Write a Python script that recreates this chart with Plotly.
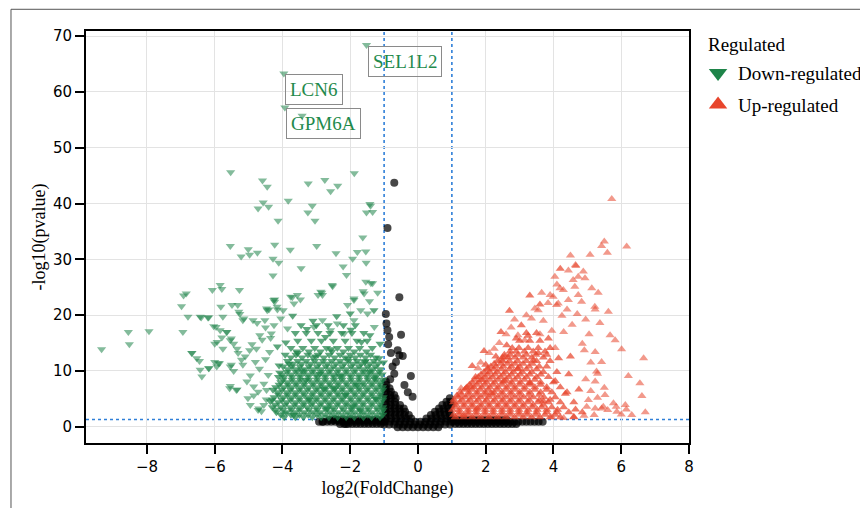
import plotly.graph_objects as go

# ---------------- data ----------------
# Down-regulated: sparse outer points (log2FC, -log10 p)
down_outer = [
    (-5.53,45.6),(-4.59,44.1),(-4.45,43.0),(-4.57,40.2),(-4.72,39.1),(-4.41,39.4),(-4.13,36.9),
    (-3.24,43.6),(-2.75,44.2),(-2.58,42.2),(-2.37,43.2),(-1.88,45.4),(-3.83,40.5),(-3.12,39.6),
    (-3.25,38.4),(-3.04,36.9),(-1.42,39.9),(-1.40,39.6),(-1.52,38.4),(-1.34,38.5),(-1.63,33.9),
    (-5.54,32.4),(-5.01,31.8),(-5.22,30.5),(-4.97,30.8),(-4.74,31.2),(-4.23,32.6),(-4.28,30.1),
    (-4.11,29.4),(-4.28,27.1),(-3.77,31.7),(-2.99,32.4),(-2.42,31.1),(-1.79,31.3),(-1.54,31.4),
    (-1.93,30.1),(-1.53,29.4),(-3.45,28.4),(-2.21,28.7),(-2.11,27.2),(-2.52,25.2),(-1.54,26.0),
    (-1.34,25.7),(-1.62,24.3),(-1.19,24.0),(-2.95,23.6),(-2.84,24.0),(-3.71,23.2),(-3.56,23.6),
    (-3.47,22.8),(-1.89,23.0),(-1.43,22.5),(-6.84,23.9),(-6.92,23.5),(-6.98,21.6),(-6.07,24.5),
    (-5.84,25.4),(-5.79,24.7),(-5.27,24.5),(-5.82,21.5),(-5.32,21.8),(-4.23,22.8),(-4.40,21.0),
    (-4.15,21.0),(-9.34,13.9),(-8.55,17.0),(-8.52,14.8),(-7.94,17.1),(-6.79,19.7),(-6.43,19.7),
    (-6.18,19.6),(-6.94,17.0),(-6.68,13.2),(-6.53,12.3),(-6.38,9.0),(-6.43,10.2),(-6.18,10.5),
    (-5.94,10.8),(-5.89,11.4),(-5.93,15.2),(-5.79,16.0),(-5.54,15.5),(-5.44,14.9),(-5.34,14.0),
    (-6.03,18.0),(-5.84,17.3),(-5.64,17.0),(-5.49,21.8),(-5.29,20.6),(-5.14,19.4),(-5.54,10.8),
    (-5.44,10.0),(-5.54,7.3),(-5.34,6.7),(-4.70,3.3),(-4.55,3.9),(-5.05,8.1),(-4.85,7.2),
    (-3.96,2.4),(-4.45,20.9),(-4.26,22.7),(-4.16,21.5),(-3.76,23.3),(-3.66,22.1),(-2.53,25.4),
    (-2.08,21.8),(-1.89,22.7),(-1.59,23.9),(-1.39,25.7),(-2.87,24.2),(-2.82,23.6),(-3.07,17.9),
    (-2.82,19.1),(-2.58,17.3),(-2.38,18.5),(-2.18,16.7),(-1.89,19.1),(-1.69,20.9),(-1.49,20.3),
    (-1.29,17.9),(-6.00,14.9),(-5.76,14.0),(-6.67,13.2),(-6.45,11.8),(-6.17,10.5),(-6.00,11.6),
    (-5.86,11.4),(-5.31,13.2),(-5.21,12.0),(-5.17,11.1),(-5.51,11.1),(-5.56,6.9),(-5.36,6.6),
    (-5.02,5.1),(-4.72,3.0),(-4.47,6.6),(-4.97,13.7),(-4.77,14.0),(-4.67,16.4),(-4.33,16.7),
    (-4.52,19.1),(-4.87,19.1),(-4.47,21.2),(-4.23,22.4),(-3.98,20.9),(-5.76,19.7),(-5.26,20.2),
    (-5.17,19.1),(-5.96,17.9),(-5.65,17.0),(-5.51,15.8),(-6.40,19.6),(-6.20,19.6),
    (-4.62,2.8),(-4.48,4.9),(-4.72,6.3),(-4.55,7.7),(-4.42,9.3),(-4.68,10.4),(-4.50,12.1),
    (-4.38,13.4),(-4.80,11.6),(-4.95,9.2),(-5.10,12.6),(-4.90,14.8),(-4.60,15.6),(-4.35,15.9),
    (-4.25,18.2),(-4.05,19.4),(-3.85,17.6),(-4.50,17.8),(-4.75,18.6),(-4.85,5.6),(-4.95,3.9),
    (-3.42,55.7),
]
# Down-regulated: irregular points inside the dense cloud
down_inner = [
    (-4.36,4.6),(-4.08,9.7),(-3.81,11.3),(-3.55,13.2),(-3.31,8.4),(-3.02,12.6),(-2.79,6.8),
    (-2.57,13.9),(-2.31,9.1),(-2.06,12.2),(-1.79,7.5),(-1.57,11.6),(-1.29,8.7),(-1.15,12.3),
    (-3.67,2.1),(-3.20,4.9),(-2.67,3.3),(-2.15,5.7),(-1.69,2.9),(-1.25,5.0),(-3.90,15.1),
    (-3.28,17.5),(-2.73,16.1),(-2.40,19.8),(-1.98,17.4),(-1.67,15.2),(-1.42,16.4),(-1.12,14.9),
    (-4.10,11.0),(-3.44,10.1),(-2.90,9.5),(-2.45,6.9),(-1.93,3.7),(-1.45,9.9),(-1.02,11.5),
    (-3.10,19.0),(-2.00,20.3),(-1.30,20.9),(-3.70,19.9),(-4.15,14.4),
]
# Down-regulated: dense core, rows of (-log10 p, [log2FC ...])
down_core_rows = [
    (1.7,  [-3.95,-3.62,-3.38,-3.12,-2.86,-2.63,-2.37,-2.12,-1.88,-1.61,-1.37,-1.12]),
    (2.15, [-4.05,-3.75,-3.50,-3.24,-2.98,-2.74,-2.48,-2.22,-1.98,-1.72,-1.48,-1.22,-1.04]),
    (2.6,  [-4.18,-3.88,-3.63,-3.36,-3.10,-2.88,-2.60,-2.35,-2.08,-1.86,-1.60,-1.35,-1.08]),
    (3.05, [-4.20,-3.98,-3.74,-3.50,-3.22,-2.98,-2.72,-2.48,-2.20,-1.96,-1.72,-1.46,-1.20,-1.03]),
    (3.5,  [-4.30,-4.05,-3.76,-3.50,-3.27,-3.00,-2.74,-2.50,-2.24,-1.98,-1.74,-1.48,-1.22,-1.04]),
    (3.95, [-4.22,-3.92,-3.64,-3.38,-3.14,-2.88,-2.62,-2.38,-2.12,-1.86,-1.62,-1.36,-1.12]),
    (4.4,  [-4.12,-3.88,-3.62,-3.37,-3.12,-2.86,-2.62,-2.36,-2.12,-1.86,-1.62,-1.36,-1.10]),
    (4.85, [-4.30,-4.02,-3.76,-3.50,-3.24,-3.00,-2.74,-2.50,-2.24,-1.98,-1.74,-1.48,-1.22,-1.04]),
    (5.3,  [-4.25,-3.98,-3.74,-3.50,-3.24,-2.99,-2.74,-2.48,-2.24,-1.99,-1.73,-1.49,-1.24,-1.03]),
    (5.75, [-4.12,-3.86,-3.62,-3.36,-3.12,-2.86,-2.62,-2.36,-2.12,-1.86,-1.62,-1.36,-1.12]),
    (6.2,  [-4.14,-3.87,-3.62,-3.38,-3.11,-2.87,-2.61,-2.37,-2.11,-1.87,-1.61,-1.37,-1.11]),
    (6.65, [-4.28,-4.02,-3.76,-3.50,-3.26,-3.00,-2.74,-2.48,-2.24,-1.98,-1.74,-1.50,-1.24,-1.04]),
    (7.1,  [-4.20,-3.96,-3.73,-3.48,-3.23,-2.98,-2.73,-2.50,-2.23,-1.98,-1.74,-1.48,-1.23,-1.05]),
    (7.55, [-4.10,-3.84,-3.60,-3.36,-3.10,-2.86,-2.60,-2.36,-2.10,-1.86,-1.60,-1.36,-1.12]),
    (8.0,  [-4.05,-3.85,-3.60,-3.36,-3.10,-2.86,-2.62,-2.36,-2.12,-1.86,-1.62,-1.36,-1.12]),
    (8.45, [-3.98,-3.72,-3.48,-3.22,-2.98,-2.74,-2.48,-2.24,-1.98,-1.74,-1.48,-1.24,-1.04]),
    (8.9,  [-4.12,-3.96,-3.72,-3.48,-3.24,-2.98,-2.74,-2.48,-2.24,-1.98,-1.74,-1.50,-1.25]),
    (9.35, [-4.00,-3.74,-3.48,-3.24,-3.00,-2.74,-2.50,-2.24,-2.00,-1.74,-1.50,-1.26,-1.06]),
    (9.8,  [-3.86,-3.60,-3.36,-3.12,-2.86,-2.62,-2.38,-2.12,-1.88,-1.62,-1.38,-1.14]),
    (10.3, [-3.84,-3.60,-3.34,-3.10,-2.86,-2.60,-2.36,-2.12,-1.86,-1.62,-1.36,-1.12]),
    (10.8, [-3.98,-3.72,-3.48,-3.22,-2.98,-2.72,-2.50,-2.24,-1.98,-1.74,-1.49,-1.26]),
    (11.3, [-3.70,-3.44,-3.18,-2.92,-2.68,-2.42,-2.18,-1.92,-1.68,-1.42,-1.18]),
    (11.8, [-3.85,-3.55,-3.30,-3.05,-2.80,-2.55,-2.30,-2.05,-1.80,-1.55,-1.30]),
    (12.4, [-3.75,-3.42,-3.10,-2.78,-2.46,-2.15,-1.85,-1.55,-1.25]),
    (12.9, [-3.92,-3.60,-3.25,-2.95,-2.62,-2.30,-2.00,-1.70,-1.40]),
    (13.5, [-3.58,-3.22,-2.88,-2.54,-2.20,-1.88,-1.52]),
    (14.1, [-3.75,-3.40,-3.05,-2.70,-2.38,-2.05,-1.72,-1.35]),
    (15.4, [-3.55,-3.15,-2.85,-2.50,-2.15,-1.80,-1.50]),
    (16.8, [-3.62,-3.30,-2.95,-2.60,-2.25,-1.95,-1.60]),
    (18.2, [-3.45,-3.00,-2.65,-2.20,-1.85]),
]

# Up-regulated: sparse outer points
up_outer = [
    (5.72,40.8),(5.50,33.2),(5.42,32.4),(5.59,31.2),(6.16,32.3),(4.50,30.7),(5.08,30.8),(4.65,29.0),
    (4.66,28.8),(4.44,28.0),(4.88,27.8),(4.73,26.9),(4.04,26.9),(4.58,26.3),(4.93,26.6),(4.19,24.8),
    (4.29,24.5),(4.63,25.1),(4.73,23.6),(5.13,24.8),(5.32,24.0),(3.84,22.2),(3.99,23.3),(4.44,22.7),
    (4.83,22.4),(5.22,21.5),(5.62,20.6),(5.23,21.0),(2.85,19.2),(3.35,19.4),(3.55,20.9),(4.09,21.8),
    (4.14,22.1),(5.37,18.6),(5.67,16.4),(5.82,15.5),(6.01,13.9),(4.91,13.7),(5.23,13.4),(5.42,11.6),
    (6.66,12.3),(6.21,9.1),(6.61,5.5),(6.71,2.6),(5.77,4.2),(6.12,3.9),(5.47,3.6),(5.23,3.3),
    (1.77,10.5),(2.06,10.5),(1.87,8.4),(1.27,6.9),(1.57,7.2),(2.95,16.4),(3.15,15.5),(2.56,12.5),
    (2.46,12.0),(5.27,9.9),(5.23,8.1),(5.52,5.7),(5.03,4.8),(4.98,3.6),(5.42,3.3),(5.87,2.7),
    (6.31,2.1),(3.20,20.0),(3.45,21.2),(3.70,19.0),(3.90,23.6),(4.10,25.5),(4.25,19.9),(4.40,21.0),
    (3.60,16.6),(4.05,14.1),(4.55,18.3),(4.70,20.2),(4.95,19.2),(5.05,16.6),(4.85,14.9),(5.10,11.5),
    (4.30,17.0),(3.95,17.2),(3.65,24.0),(2.75,17.8),(2.40,15.0),(2.60,16.6),(2.10,13.2),(1.85,11.5),
    (2.25,14.0),(5.30,9.5),(5.50,7.0),(5.10,6.4),(4.95,8.5),(5.30,5.2),(5.60,3.0),(5.85,3.6),
    (6.00,2.2),(5.20,2.1),(4.90,2.0),(4.60,1.8),(4.30,1.6),(3.95,1.7),(6.15,3.1),(6.55,7.8),
]
# Up-regulated: irregular points inside the dense cloud
up_inner = [
    (1.15,5.6),(1.42,6.9),(1.70,8.9),(2.00,11.1),(2.30,12.6),(2.62,14.6),(2.90,15.8),(3.25,16.3),
    (3.55,13.2),(3.80,10.8),(4.05,8.2),(4.35,5.9),(4.65,3.1),(3.70,4.6),(3.30,7.8),(2.95,10.4),
    (2.55,8.2),(2.15,6.0),(1.75,3.3),(1.35,2.1),(3.40,11.9),(3.85,15.8),(4.15,12.3),(4.45,9.4),
    (4.75,6.7),(3.05,18.2),(2.45,17.0),(1.95,13.6),(1.60,10.9),(4.50,12.6),(3.60,21.9),(4.20,28.3),
    (3.30,23.5),(2.70,20.8),
]
# Up-regulated: dense core rows
up_core_rows = [
    (1.7,  [1.10,1.35,1.60,1.85,2.10,2.35,2.60,2.85,3.10,3.35,3.60,3.90,4.20,4.60]),
    (2.15, [1.05,1.22,1.48,1.72,1.98,2.22,2.48,2.72,2.98,3.22,3.48,3.75,4.05]),
    (2.6,  [1.22,1.48,1.72,1.98,2.22,2.48,2.72,2.98,3.22,3.50,3.80,4.10,4.45,4.85]),
    (3.05, [1.02,1.22,1.48,1.72,1.98,2.22,2.48,2.72,2.98,3.25,3.52,3.80,4.12]),
    (3.5,  [1.10,1.35,1.60,1.85,2.10,2.35,2.60,2.85,3.10,3.38,3.65,3.95,4.30]),
    (3.95, [1.12,1.36,1.60,1.86,2.10,2.36,2.60,2.86,3.12,3.40,3.70]),
    (4.4,  [1.05,1.24,1.48,1.72,1.98,2.22,2.48,2.72,2.98,3.25,3.55,3.85,4.20,4.60]),
    (4.85, [1.06,1.30,1.54,1.78,2.02,2.26,2.50,2.74,3.00,3.28,3.58,3.90]),
    (5.3,  [1.18,1.40,1.62,1.86,2.10,2.36,2.60,2.86,3.12,3.40,3.72,4.05]),
    (5.75, [1.28,1.50,1.74,1.98,2.22,2.48,2.74,3.00,3.28,3.58]),
    (6.2,  [1.25,1.50,1.74,1.98,2.24,2.48,2.74,3.00,3.30,3.62,3.95,4.40]),
    (6.65, [1.38,1.60,1.84,2.08,2.34,2.60,2.86,3.14,3.45,3.80]),
    (7.1,  [1.45,1.65,1.88,2.12,2.36,2.62,2.86,3.15,3.45,3.80,4.20]),
    (7.55, [1.52,1.74,1.98,2.22,2.48,2.74,3.00,3.30,3.62]),
    (8.0,  [1.60,1.80,2.02,2.26,2.50,2.76,3.02,3.30,3.62,4.00]),
    (8.45, [1.68,1.90,2.12,2.36,2.60,2.86,3.14,3.45]),
    (8.9,  [1.78,1.98,2.20,2.44,2.68,2.94,3.20,3.50,3.85]),
    (9.35, [1.86,2.06,2.28,2.52,2.76,3.02,3.30,3.62]),
    (9.8,  [1.95,2.12,2.34,2.58,2.82,3.08,3.36,3.70,4.10]),
    (10.3, [2.05,2.24,2.46,2.70,2.94,3.20,3.50]),
    (10.8, [2.15,2.30,2.52,2.76,3.00,3.28,3.58]),
    (11.3, [2.25,2.44,2.64,2.86,3.10,3.38]),
    (11.8, [2.35,2.50,2.70,2.94,3.20,3.50,3.90]),
    (12.4, [2.50,2.66,2.86,3.10,3.36,3.70]),
    (12.9, [2.55,2.72,2.95,3.20,3.48,3.80]),
    (13.5, [2.72,2.90,3.14,3.40,3.75]),
    (14.1, [2.78,2.98,3.25,3.55,3.90]),
    (15.4, [3.00,3.30,3.60]),
    (16.8, [3.20,3.50]),
]

# Not significant points
ns_outer = [
    (-0.70,43.7),(-0.90,35.6),(-0.55,23.2),(-0.95,20.2),(-0.93,18.5),(-0.90,17.3),(-0.50,16.5),
    (-0.85,16.1),(-0.60,13.7),(-0.55,12.8),(-0.65,11.6),(-0.80,13.2),(-0.75,10.8),(-0.21,9.1),
    (-0.16,5.4),(-0.45,12.7),(-0.88,14.8),(-0.70,9.5),(-0.40,7.5),(-0.30,6.2),(-0.82,8.5),
    (-2.82,0.9),(-2.43,1.3),(-2.13,0.5),
]
ns_core_rows = [
    (0.9,  [-2.92,-2.80,-2.68,-2.56,-2.44,-2.32,-2.20,-2.08,-1.96,-1.84,-1.72,-1.60,-1.48,
            -1.36,-1.24,-1.12,-1.02,
            1.04,1.16,1.28,1.40,1.52,1.64,1.76,1.88,2.00,2.12,2.24,2.36,2.48,2.60,2.72,2.84,
            2.96,3.08,3.20,3.32,3.44,3.56,3.68]),
    (0.5,  [-2.30,-2.18,-2.06,-1.94,-1.82,-1.70,-1.58,-1.46,-1.34,-1.22,-1.10,
            1.10,1.22,1.34,1.46,1.58,1.70,1.82,1.94,2.06,2.18,2.30,2.42,2.54,2.66,2.78,2.90]),
    (1.2,  [-2.62,-2.50,-2.38,-2.26,-2.14,-2.02,-1.90,-1.78,-1.66,-1.54,-1.42,-1.30,-1.18,-1.06,
            1.06,1.18,1.30,1.42,1.54,1.66,1.78,1.90,2.02,2.14,2.26,2.38,2.50,2.62]),
    (-0.1, [-0.60,-0.45,-0.30,-0.15,0.00,0.15,0.30,0.45,0.60]),
    (0.4,  [-1.00,-0.85,-0.70,-0.55,-0.40,-0.25,-0.10,0.05,0.20,0.35,0.50,0.65,0.80,0.95]),
    (0.9,  [-0.98,-0.83,-0.68,-0.53,-0.38,-0.23,-0.08,0.07,0.22,0.37,0.52,0.67,0.82,0.97]),
    (1.5,  [-0.95,-0.80,-0.65,-0.50,-0.35,-0.20,0.25,0.40,0.55,0.70,0.85,0.98]),
    (2.1,  [-0.96,-0.82,-0.68,-0.54,-0.40,-0.27,0.38,0.52,0.66,0.80,0.94]),
    (2.7,  [-0.95,-0.80,-0.66,-0.52,-0.38,0.50,0.64,0.78,0.92]),
    (3.3,  [-0.97,-0.83,-0.69,-0.55,-0.42,0.62,0.76,0.90]),
    (3.9,  [-0.95,-0.81,-0.67,-0.53,0.72,0.86,0.98]),
    (4.5,  [-0.96,-0.82,-0.68,0.84,0.96]),
    (5.1,  [-0.94,-0.80,-0.66,0.94]),
    (5.7,  [-0.96,-0.82,-0.70]),
    (6.3,  [-0.94,-0.80]),
    (6.9,  [-0.96,-0.84]),
    (7.5,  [-0.93]),
    (8.1,  [-0.95]),
]

# Labelled genes
gene_names = ["SEL1L2", "LCN6", "GPM6A"]
gene_x = [-1.52, -3.96, -3.93]
gene_y = [68.4, 63.3, 57.2]

legend_title = "Regulated"
legend_names = ["Down-regulated", "Up-regulated"]

fc_cut = 1.0
p_cut = 1.3  # -log10(0.05)

x_ticks = [-8, -6, -4, -2, 0, 2, 4, 6, 8]
y_ticks = [0, 10, 20, 30, 40, 50, 60, 70]

# ---------------- build ----------------
def expand(outer, rows):
    xs = [p[0] for p in outer]
    ys = [p[1] for p in outer]
    for yv, xl in rows:
        for xv in xl:
            xs.append(xv)
            ys.append(yv)
    return xs, ys

dox, doy = expand(down_outer, [])
dox += gene_x
doy += gene_y
dcx, dcy = expand(down_inner, down_core_rows)
uox, uoy = expand(up_outer, [])
ucx, ucy = expand(up_inner, up_core_rows)
nx, ny = expand(ns_outer, ns_core_rows)

GREEN = "#1e8449"
RED = "#e8452c"
SERIF = "Liberation Serif, Times New Roman, serif"
SANS = "DejaVu Sans, sans-serif"

fig = go.Figure()
fig.add_trace(go.Scatter(x=nx, y=ny, mode="markers", showlegend=False,
                         marker=dict(symbol="circle", size=8, color="black", opacity=0.72,
                                     line=dict(width=0))))
fig.add_trace(go.Scatter(x=dcx, y=dcy, mode="markers", showlegend=False,
                         marker=dict(symbol="triangle-down", size=8, color=GREEN, opacity=0.72,
                                     line=dict(width=0))))
fig.add_trace(go.Scatter(x=dox, y=doy, mode="markers", showlegend=False,
                         marker=dict(symbol="triangle-down", size=8, color=GREEN, opacity=0.55,
                                     line=dict(width=0))))
fig.add_trace(go.Scatter(x=ucx, y=ucy, mode="markers", showlegend=False,
                         marker=dict(symbol="triangle-up", size=8, color=RED, opacity=0.72,
                                     line=dict(width=0))))
fig.add_trace(go.Scatter(x=uox, y=uoy, mode="markers", showlegend=False,
                         marker=dict(symbol="triangle-up", size=8, color=RED, opacity=0.55,
                                     line=dict(width=0))))
# legend entries
fig.add_trace(go.Scatter(x=[None], y=[None], mode="markers", name=legend_names[0],
                         legendgroup="down",
                         marker=dict(symbol="triangle-down", size=16, color=GREEN)))
fig.add_trace(go.Scatter(x=[None], y=[None], mode="markers", name=legend_names[1],
                         legendgroup="up",
                         marker=dict(symbol="triangle-up", size=16, color=RED)))

# threshold lines
line_style = dict(color="#2f7fd8", width=1.6, dash="dot")
fig.add_shape(type="line", xref="x", yref="paper", x0=-fc_cut, x1=-fc_cut, y0=0, y1=1,
              line=line_style, layer="below")
fig.add_shape(type="line", xref="x", yref="paper", x0=fc_cut, x1=fc_cut, y0=0, y1=1,
              line=line_style, layer="below")
fig.add_shape(type="line", xref="paper", yref="y", x0=0, x1=1, y0=p_cut, y1=p_cut,
              line=line_style, layer="below")
# outer frame of the figure
fig.add_shape(type="rect", xref="paper", yref="paper", x0=-0.1244, x1=1.31, y0=-0.2, y1=1.0527,
              line=dict(color="#555555", width=1), layer="below")

for name, gx, gy in zip(gene_names, gene_x, gene_y):
    fig.add_annotation(x=gx, y=gy, text=name, showarrow=False, xanchor="left", yanchor="top",
                       xshift=1, yshift=-1,
                       font=dict(family=SERIF, size=19, color="#1f8a4c"),
                       bordercolor="#8a8a8a", borderwidth=1, borderpad=4,
                       bgcolor="rgba(255,255,255,0)")

# legend title as text
fig.add_annotation(x=1.028, y=0.968, xref="paper", yref="paper", text=legend_title,
                   showarrow=False, xanchor="left", yanchor="middle",
                   font=dict(family=SERIF, size=19, color="black"))

axis_common = dict(showline=True, linecolor="black", linewidth=2, mirror=True,
                   ticks="outside", ticklen=9, tickwidth=1.5, tickcolor="black",
                   showgrid=True, gridcolor="#e3e3e3", gridwidth=1.2, zeroline=False,
                   automargin=False,
                   tickfont=dict(family=SANS, size=15, color="black"))

fig.update_layout(
    width=860, height=500,
    margin=dict(l=78, r=179, t=23, b=65, autoexpand=False),
    paper_bgcolor="white", plot_bgcolor="white",
    xaxis=dict(range=[-9.8, 8.0], tickvals=x_ticks,
               title=dict(text="log2(FoldChange)", font=dict(family=SERIF, size=18, color="black"),
                          standoff=6),
               **axis_common),
    yaxis=dict(range=[-2.9, 70.9], tickvals=y_ticks,
               title=dict(text="-log10(pvalue)", font=dict(family=SERIF, size=18, color="black"),
                          standoff=3),
               **axis_common),
    legend=dict(font=dict(family=SERIF, size=19, color="black"),
                x=1.015, y=0.944, xanchor="left", yanchor="top", tracegroupgap=4,
                itemsizing="trace", bgcolor="rgba(0,0,0,0)"),
)

fig.write_html("out.html")
